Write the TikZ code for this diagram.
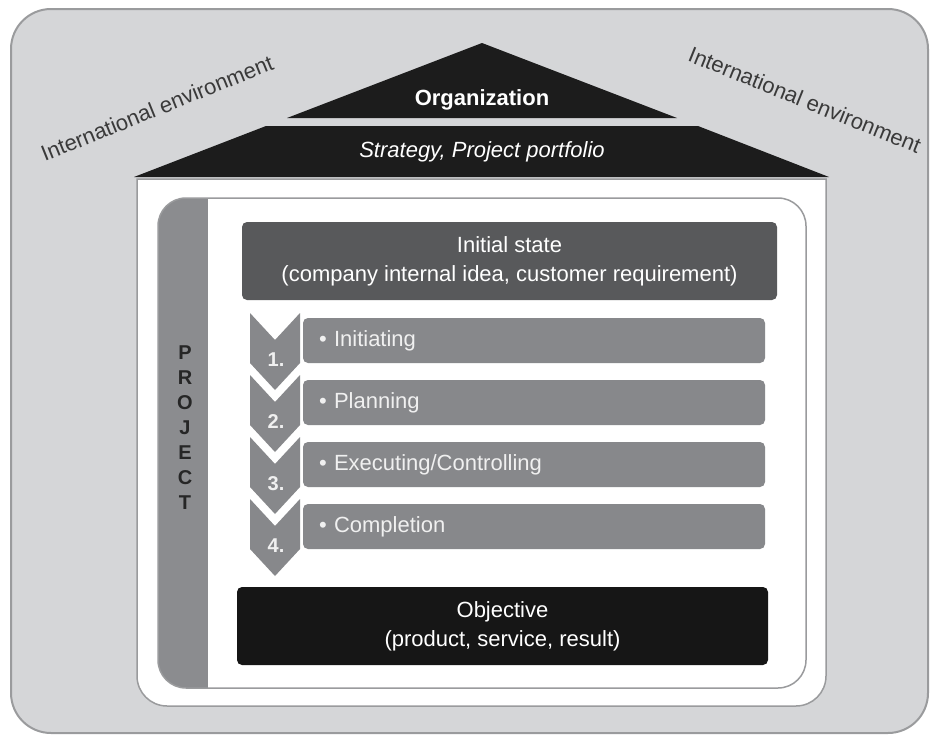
\documentclass[tikz,border=0pt]{standalone}
\usepackage{fontspec}
\setmainfont{Liberation Sans}
\usetikzlibrary{positioning}
\definecolor{envgray}{HTML}{D5D6D8}
\definecolor{framegray}{HTML}{9A9B9D}
\definecolor{roofblack}{HTML}{1C1C1C}
\definecolor{statedark}{HTML}{58595B}
\definecolor{stepgray}{HTML}{87888B}
\definecolor{projgray}{HTML}{8B8C8F}
\definecolor{objblack}{HTML}{161616}
\definecolor{envtext}{HTML}{3A3A3A}
\tikzset{
  bigbox/.style={text=white,align=center,font=\fontsize{22}{29}\selectfont,rounded corners=5pt},
  stepbar/.style={fill=stepgray,rounded corners=5pt,minimum width=462pt,minimum height=45pt,
    text width=430pt,align=left,text=white!94!black,font=\fontsize{22}{26}\selectfont},
  chevbox/.style={fill=stepgray},
  stepnum/.style={text=white!94!black,font=\bfseries\fontsize{20}{24}\selectfont},
  envlabel/.style={text=envtext,font=\fontsize{22}{26}\selectfont}
}
\begin{document}
\begin{tikzpicture}[x=1pt,y=-1pt]
    \useasboundingbox (0,0) rectangle (935,736);
    % Environment frame
    \filldraw[fill=envgray,draw=framegray,line width=2pt,rounded corners=40pt] (11,9) rectangle (928,733);
    \node[envlabel,rotate=22] (envL) at (157,108) {International environment};
    \node[envlabel,rotate=-22] (envR) at (805,100) {International environment};

    % Roof: organization and strategy
    \fill[roofblack] (482,43) -- (677,118) -- (287,118) -- cycle;
    \node[text=white,font=\bfseries\fontsize{22}{26}\selectfont] (org) at (482,100) {Organization};
    \fill[roofblack] (266,126) -- (698,126) -- (829,177) -- (134,177) -- cycle;
    \node[text=white,font=\itshape\fontsize{22}{26}\selectfont] (strat) at (482,152) {Strategy, Project portfolio};

    % House body
    \filldraw[fill=white,draw=framegray,line width=1.5pt] (137,179) -- (826,179) -- (826,676)
      arc[start angle=0,end angle=90,radius=30] -- (167,706)
      arc[start angle=90,end angle=180,radius=30] -- cycle;

    % Project frame with side bar
    \fill[white,rounded corners=28pt] (158,198) rectangle (806,688);
    \begin{scope}
      \clip[rounded corners=28pt] (158,198) rectangle (806,688);
      \fill[projgray] (158,198) rectangle (208,688);
    \end{scope}
    \draw[framegray,line width=1.5pt,rounded corners=28pt] (158,198) rectangle (806,688);
    \node[align=center,text=black!85,font=\bfseries\fontsize{20}{25}\selectfont] (proj) at (185,428) {P\\R\\O\\J\\E\\C\\T};

    % Initial state
    \node[bigbox,fill=statedark,minimum width=535pt,minimum height=78pt] (init) at (509.5,261)
      {Initial state\\(company internal idea, customer requirement)};

    % Step 1
    \fill[chevbox] (250,313) -- (275,340) -- (300,313) -- (300,363) -- (275,390) -- (250,363) -- cycle;
    \node[stepnum] (num1) at (276,360) {1.};
    \node[stepbar] (bar1) at (534,340.5) {\textbullet\ Initiating};
    % Step 2
    \begin{scope}[shift={(0,62)}]
      \fill[chevbox] (250,313) -- (275,340) -- (300,313) -- (300,363) -- (275,390) -- (250,363) -- cycle;
      \node[stepnum] (num2) at (276,360) {2.};
      \node[stepbar] (bar2) at (534,340.5) {\textbullet\ Planning};
    \end{scope}
    % Step 3
    \begin{scope}[shift={(0,124)}]
      \fill[chevbox] (250,313) -- (275,340) -- (300,313) -- (300,363) -- (275,390) -- (250,363) -- cycle;
      \node[stepnum] (num3) at (276,360) {3.};
      \node[stepbar] (bar3) at (534,340.5) {\textbullet\ Executing/Controlling};
    \end{scope}
    % Step 4
    \begin{scope}[shift={(0,186)}]
      \fill[chevbox] (250,313) -- (275,340) -- (300,313) -- (300,363) -- (275,390) -- (250,363) -- cycle;
      \node[stepnum] (num4) at (276,360) {4.};
      \node[stepbar] (bar4) at (534,340.5) {\textbullet\ Completion};
    \end{scope}

    % Objective
    \node[bigbox,fill=objblack,minimum width=531pt,minimum height=78pt] (obj) at (502.5,626)
      {Objective\\(product, service, result)};
\end{tikzpicture}
\end{document}
